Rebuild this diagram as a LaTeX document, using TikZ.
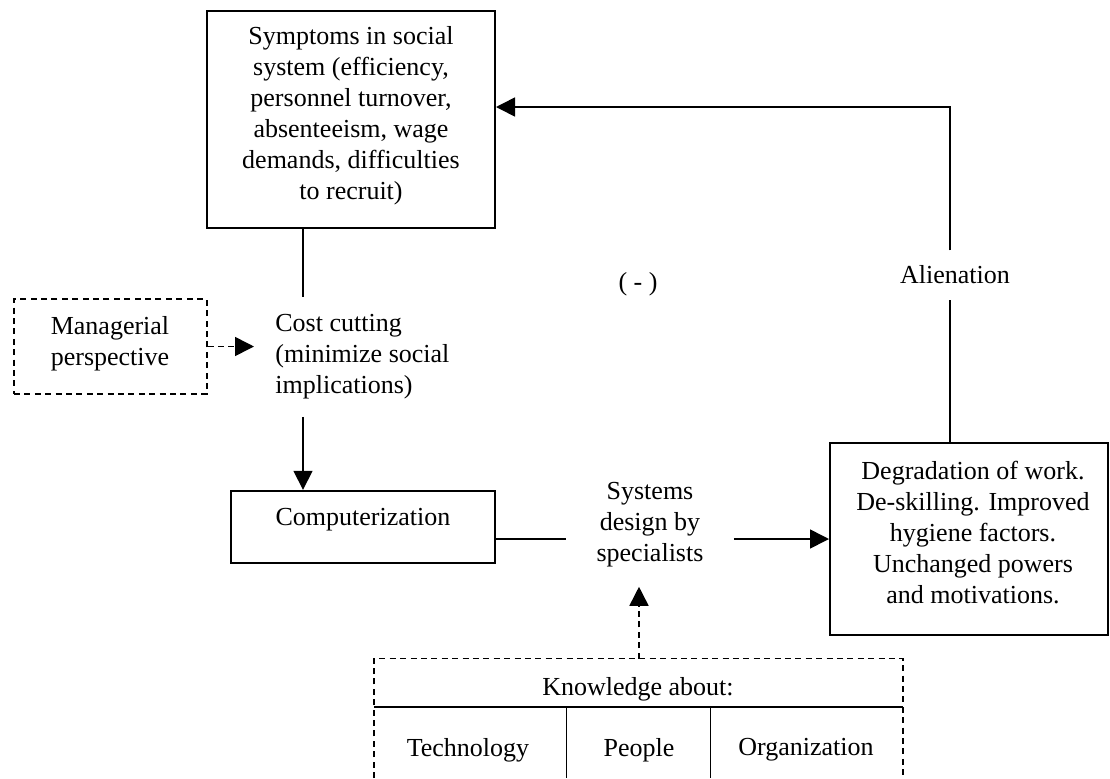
\documentclass[tikz,border=0pt]{standalone}
\usepackage{fontspec}
\setmainfont{Liberation Serif}
\usetikzlibrary{arrows.meta}
\tikzset{
  lbl/.style={font=\fontsize{13pt}{15.5pt}\selectfont, align=center, inner sep=0pt},
  box/.style={draw, line width=1pt, inner sep=0pt},
  dbox/.style={draw, line width=0.9pt, dash pattern=on 3pt off 2.2pt, inner sep=0pt},
  link/.style={line width=0.8pt},
  dlink/.style={line width=0.8pt, dash pattern=on 3pt off 2.2pt},
  tri/.style={-{Triangle[length=9.5pt,width=9.5pt]}},
}
\begin{document}
\begin{tikzpicture}[x=0.5pt,y=-0.5pt]
\useasboundingbox (0,0) rectangle (1110,778);

% symptoms box
\node[box, minimum width=144pt, minimum height=108.5pt] (sym) at (351,119.5) {};
\node[lbl] (symt) at (351,116) {Symptoms in social\\system (efficiency,\\personnel turnover,\\absenteeism, wage\\demands, difficulties\\to recruit)};

% managerial perspective (dashed)
\node[dbox, minimum width=96.3pt, minimum height=47.5pt] (mgr) at (110.3,346.5) {};
\node[lbl] (mgrt) at (110,344) {Managerial\\perspective};

% cost cutting
\node[lbl, align=left, anchor=west, inner xsep=10.5pt, inner ysep=8.5pt] (cost) at (254,357) {Cost cutting\\(minimize social\\implications)};

% computerization box
\node[box, minimum width=132pt, minimum height=36.2pt] (comp) at (363,527) {};
\node[lbl] (compt) at (363,520) {Computerization};

% systems design
\node[lbl, inner xsep=15pt, inner ysep=9.5pt] (des) at (650,525) {Systems\\design by\\specialists};

% degradation box
\node[box, minimum width=139pt, minimum height=96.2pt] (deg) at (969,539) {};
\node[lbl] (degt) at (973,533) {Degradation of work.\\De-skilling. Improved\\hygiene factors.\\Unchanged powers\\and motivations.};

% alienation and sign
\node[lbl, inner ysep=7.5pt] (ali) at (955,275) {Alienation};
\node[lbl] (neg) at (638,284) {( - )};

% knowledge frame
\coordinate (kt) at (639,658.5);
\draw[dlink] (374,778) -- (374,658.5) -- (903,658.5) -- (903,778);
\draw[line width=1pt] (374,707) -- (903,707);
\draw[link] (566.5,707) -- (566.5,778);
\draw[link] (710.5,707) -- (710.5,778);
\node[lbl] (knh) at (638,689) {Knowledge about:};
\node[lbl] (tech) at (468,750) {Technology};
\node[lbl] (ppl) at (639,750) {People};
\node[lbl] (org) at (806,750) {Organization};

% connectors
\coordinate (cx) at (303,0);
\coordinate (tr) at (950,107);
\draw[link] (sym.south -| cx) -- (cost.north -| cx);
\draw[link,tri] (cost.south -| cx) -- (comp.north -| cx);
\draw[dlink,tri] (mgr.east) -- (cost.west |- mgr.east);
\draw[link] (comp.east |- deg.west) -- (des.west |- deg.west);
\draw[link,tri] (des.east |- deg.west) -- (deg.west);
\draw[dlink,tri] (kt) -- (des.south -| kt);
\draw[link] (deg.north -| tr) -- (ali.south -| tr);
\draw[link,tri] (ali.north -| tr) -- (tr) -- (sym.east |- tr);
\end{tikzpicture}
\end{document}
